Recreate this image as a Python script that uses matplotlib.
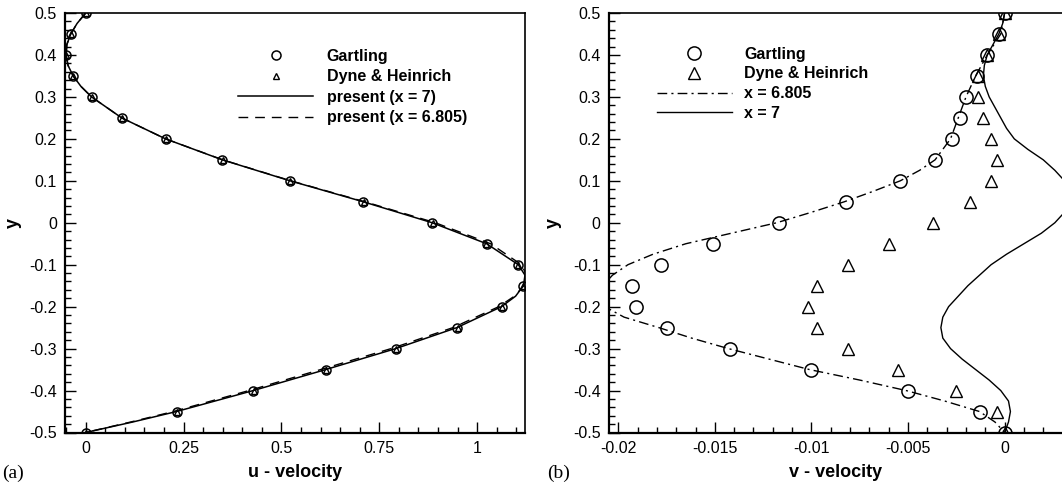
import matplotlib
matplotlib.use('Agg')
import matplotlib.pyplot as plt
from matplotlib.ticker import MultipleLocator, FuncFormatter

plt.rcParams['font.family'] = ['Liberation Sans', 'DejaVu Sans']
plt.rcParams['axes.unicode_minus'] = False

# ---- data ----
y_pts = [0.5, 0.45, 0.4, 0.35, 0.3, 0.25, 0.2, 0.15, 0.1, 0.05, 0.0,
         -0.05, -0.1, -0.15, -0.2, -0.25, -0.3, -0.35, -0.4, -0.45, -0.5]

# (a) u-velocity
u_gartling = [0.0, -0.038, -0.049, -0.032, 0.015, 0.092, 0.204, 0.349, 0.522, 0.709, 0.885,
              1.024, 1.105, 1.118, 1.062, 0.948, 0.792, 0.613, 0.428, 0.232, 0.0]
u_dyne = [0.0, -0.037, -0.050, -0.032, 0.015, 0.092, 0.204, 0.350, 0.523, 0.710, 0.886,
          1.023, 1.103, 1.118, 1.063, 0.950, 0.793, 0.614, 0.430, 0.233, 0.0]

y_line_u = [0.5, 0.475, 0.45, 0.425, 0.4, 0.375, 0.35, 0.325, 0.3, 0.25, 0.2, 0.15, 0.1,
            0.05, 0.0, -0.05, -0.1, -0.125, -0.15, -0.175, -0.2, -0.25, -0.3, -0.35,
            -0.4, -0.45, -0.475, -0.5]
u_x7 = [0.0, -0.022, -0.038, -0.048, -0.050, -0.045, -0.032, -0.012, 0.015, 0.092, 0.204,
        0.349, 0.522, 0.709, 0.885, 1.024, 1.105, 1.122, 1.118, 1.098, 1.062, 0.948,
        0.792, 0.613, 0.428, 0.232, 0.120, 0.0]
u_x6805 = [0.0, -0.022, -0.038, -0.048, -0.050, -0.045, -0.032, -0.012, 0.015, 0.092, 0.204,
           0.350, 0.524, 0.713, 0.893, 1.034, 1.113, 1.126, 1.119, 1.095, 1.055, 0.938,
           0.780, 0.600, 0.417, 0.224, 0.115, 0.0]

# (b) v-velocity
v_gartling = [0.0, -0.0003, -0.0009, -0.00145, -0.0020, -0.0023, -0.0027, -0.0036, -0.0054,
              -0.0082, -0.0117, -0.0151, -0.0178, -0.0193, -0.0191, -0.0175, -0.0142,
              -0.0100, -0.0050, -0.0013, 0.0]
v_dyne = [0.0, -0.0003, -0.0009, -0.0014, -0.00137, -0.0011, -0.00072, -0.0004, -0.0007,
          -0.0018, -0.0037, -0.0060, -0.0081, -0.0097, -0.0102, -0.0097, -0.0081,
          -0.0055, -0.0025, -0.0004, 0.0]

y_line_v68 = [0.5, 0.45, 0.4, 0.35, 0.3, 0.25, 0.2, 0.15, 0.125, 0.1, 0.075, 0.05, 0.025,
              0.0, -0.05, -0.075, -0.1, -0.125, -0.15, -0.175, -0.2, -0.225, -0.25, -0.275,
              -0.3, -0.325, -0.35, -0.375, -0.4, -0.425, -0.45, -0.475, -0.5]
v_x6805 = [0.0, -0.0002, -0.0009, -0.0015, -0.0020, -0.0024, -0.0028, -0.0036, -0.0044,
           -0.0054, -0.0068, -0.0083, -0.0100, -0.0118, -0.0165, -0.0182, -0.0195, -0.0203,
           -0.0208, -0.0210, -0.0207, -0.0197, -0.0179, -0.0162, -0.0143, -0.0122, -0.0101,
           -0.0075, -0.0051, -0.0031, -0.0013, -0.0005, 0.0]

y_line_v7 = [0.5, 0.475, 0.45, 0.425, 0.4, 0.375, 0.35, 0.325, 0.3, 0.275, 0.25, 0.225,
             0.2, 0.175, 0.15, 0.125, 0.1, 0.075, 0.05, 0.025, 0.0, -0.025, -0.05, -0.075,
             -0.1, -0.125, -0.15, -0.175, -0.2, -0.225, -0.25, -0.275, -0.3, -0.325,
             -0.35, -0.375, -0.4, -0.425, -0.45, -0.475, -0.5]
v_x7 = [0.0, -0.0001, -0.0003, -0.0006, -0.0009, -0.00105, -0.0011, -0.0010, -0.0008,
        -0.0005, -0.0002, 0.0001, 0.0005, 0.0012, 0.0020, 0.0026, 0.0031, 0.0033, 0.0033,
        0.0031, 0.0026, 0.0019, 0.0010, 0.0001, -0.0007, -0.0013, -0.0019, -0.0024,
        -0.0029, -0.0032, -0.0033, -0.0032, -0.0028, -0.0022, -0.0015, -0.0008, -0.0002,
        0.0002, 0.0003, 0.0002, 0.0]

FS = 11.5


def tick_fmt(v, pos):
    v = round(v, 6)
    if v == 0:
        return '0'
    return '%g' % v


fig = plt.figure(figsize=(10.62, 4.87), dpi=100)
ax1 = fig.add_axes([65.3 / 1062, 1 - 432.5 / 487, (525 - 65.3) / 1062, (432.5 - 13) / 487])
ax2 = fig.add_axes([609 / 1062, 1 - 432.5 / 487, (1062 - 609) / 1062, (432.5 - 13) / 487])


def style_axes(ax):
    for side in ['left', 'bottom']:
        ax.spines[side].set_linewidth(1.6)
    for side in ['top', 'right']:
        ax.spines[side].set_linewidth(1.2)
    ax.tick_params(which='both', direction='in', top=False, right=False,
                   labelsize=FS, width=1.0, pad=6)
    ax.tick_params(which='major', length=8)
    ax.tick_params(which='minor', length=4.5)
    ax.set_ylim(-0.5, 0.5)
    ax.yaxis.set_major_locator(MultipleLocator(0.1))
    ax.yaxis.set_minor_locator(MultipleLocator(0.02))
    ax.yaxis.set_major_formatter(FuncFormatter(tick_fmt))
    ax.xaxis.set_major_formatter(FuncFormatter(tick_fmt))
    ax.set_ylabel('y', fontsize=13, fontweight='bold')


# ---- panel (a) ----
ax1.plot(u_x7, y_line_u, '-', color='black', lw=1.1, label='present (x = 7)', zorder=2)
ax1.plot(u_x6805, y_line_u, color='black', lw=1.0, dashes=(7, 5),
         label='present (x = 6.805)', zorder=2)
ax1.plot(u_gartling, y_pts, 'o', ms=6.5, mfc='none', mec='black', mew=1.1,
         label='Gartling', zorder=3)
ax1.plot(u_dyne, y_pts, '^', ms=5, mfc='none', mec='black', mew=1.0,
         label='Dyne & Heinrich', zorder=3)
ax1.set_xlim(-0.052, 1.122)
ax1.xaxis.set_major_locator(MultipleLocator(0.25))
ax1.xaxis.set_minor_locator(MultipleLocator(0.05))
style_axes(ax1)
ax1.set_xlabel('u - velocity', fontsize=13, fontweight='bold', labelpad=6)
ax1.yaxis.set_label_coords(-0.095, 0.5)

h, l = ax1.get_legend_handles_labels()
order = [2, 3, 0, 1]
ax1.legend([h[i] for i in order], [l[i] for i in order], loc='upper left',
           bbox_to_anchor=(0.376, 0.915), frameon=False,
           prop={'weight': 'bold', 'size': FS}, handlelength=4.7,
           handletextpad=0.85, labelspacing=0.35, borderpad=0, borderaxespad=0)

# ---- panel (b) ----
ax2.plot(v_x6805, y_line_v68, color='black', lw=1.0, dashes=(7, 3, 1.5, 3),
         label='x = 6.805', zorder=2)
ax2.plot(v_x7, y_line_v7, '-', color='black', lw=1.0, label='x = 7', zorder=2)
ax2.plot(v_gartling, y_pts, 'o', ms=9.5, mfc='none', mec='black', mew=1.1,
         label='Gartling', zorder=3)
ax2.plot(v_dyne, y_pts, '^', ms=8, mfc='none', mec='black', mew=1.0,
         label='Dyne & Heinrich', zorder=3)
ax2.set_xlim(-0.02048, 0.00297)
ax2.xaxis.set_major_locator(MultipleLocator(0.005))
ax2.xaxis.set_minor_locator(MultipleLocator(0.001))
style_axes(ax2)
ax2.spines['right'].set_visible(False)
ax2.set_xlabel('v - velocity', fontsize=13, fontweight='bold', labelpad=6)
ax2.yaxis.set_label_coords(-0.104, 0.5)

h, l = ax2.get_legend_handles_labels()
order = [2, 3, 0, 1]
ax2.legend([h[i] for i in order], [l[i] for i in order], loc='upper left',
           bbox_to_anchor=(0.105, 0.92), frameon=False,
           prop={'weight': 'bold', 'size': FS}, handlelength=4.7,
           handletextpad=0.8, labelspacing=0.3, borderpad=0, borderaxespad=0)

fig.text(2 / 1062, 1 - 473 / 487, '(a)', family='Liberation Serif', fontsize=14, va='center')
fig.text(547 / 1062, 1 - 473 / 487, '(b)', family='Liberation Serif', fontsize=14, va='center')

fig.savefig('out.png', dpi=100)
